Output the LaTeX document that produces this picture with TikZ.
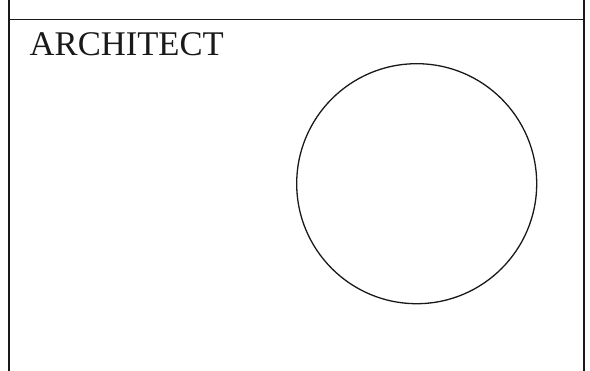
\documentclass[tikz,border=0pt]{standalone}
\usepackage{fontspec}
\setmainfont{Liberation Serif}
\begin{document}
\begin{tikzpicture}[x=1pt,y=-1pt,
  frame/.style={line width=2pt,draw=black!90},
  rule/.style={line width=1.6pt,draw=black!90},
  ring/.style={circle,draw=black!90,line width=1.3pt,minimum size=240pt,inner sep=0pt},
  label/.style={font=\fontsize{34.6}{40}\selectfont,inner sep=0pt,text=black!90}]
\useasboundingbox (0,0) rectangle (590,371);
\coordinate (lt) at (8.5,0);
\coordinate (lb) at (8.5,371);
\coordinate (rt) at (584,0);
\coordinate (rb) at (584,371);
\coordinate (hl) at (8.5,19.5);
\coordinate (hr) at (584,19.5);
\draw[frame] (lt) -- (lb);
\draw[frame] (rt) -- (rb);
\draw[rule] (hl) -- (hr);
\node[label,anchor=base west] (title) at (29.5,56) {ARCHITECT};
\node[ring] (c) at (416.7,183.7) {};
\end{tikzpicture}
\end{document}
